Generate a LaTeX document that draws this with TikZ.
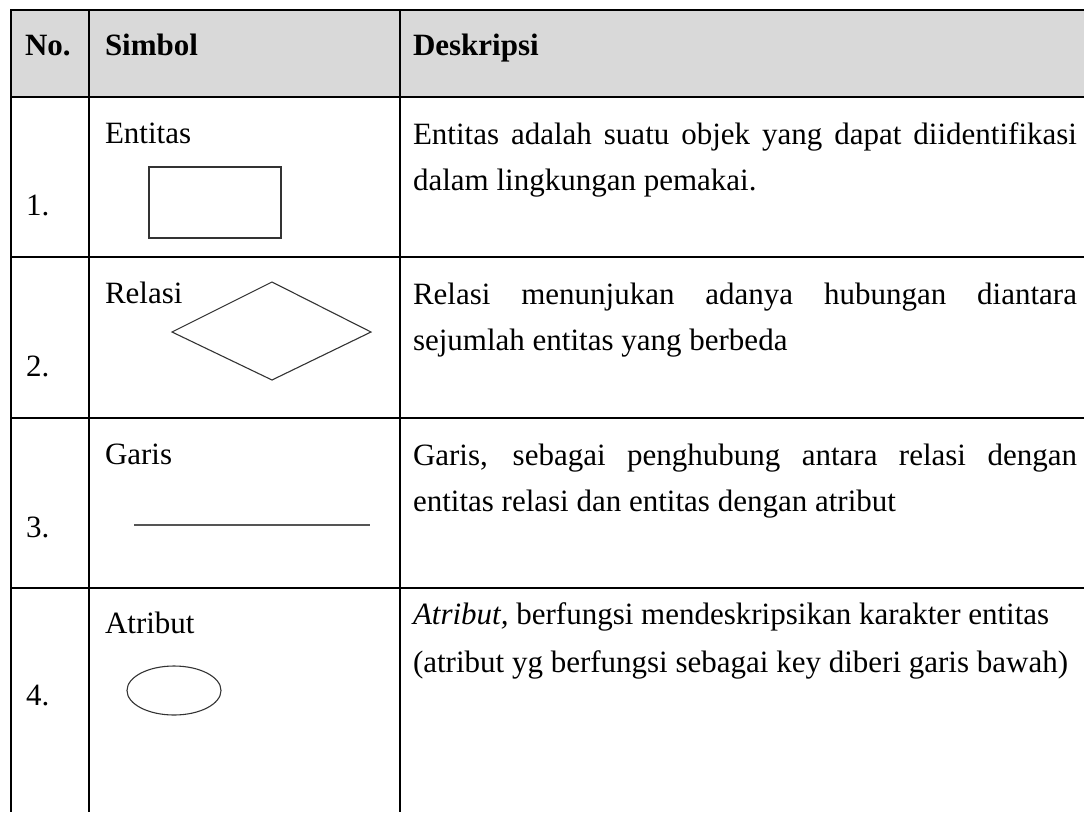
\documentclass[tikz,border=0pt]{standalone}
\usepackage{fontspec}
\setmainfont{Liberation Serif}
\definecolor{hdr}{HTML}{D9D9D9}
\definecolor{shapeline}{HTML}{333333}
\definecolor{garisline}{HTML}{555555}
\tikzset{
  grid/.style={line width=2.2pt, black},
  txt/.style={anchor=base west, inner sep=0pt, outer sep=0pt, font=\fontsize{31}{37}\selectfont},
  bold/.style={txt, font=\fontsize{31}{37}\selectfont\bfseries},
  symb/.style={line width=1.1pt, shapeline},
}
\newcommand{\jline}[1]{\makebox[664pt][s]{#1}}
\begin{document}
\begin{tikzpicture}[x=1pt,y=-1pt]
\useasboundingbox (0,0) rectangle (1084,812);
% header background
\fill[hdr] (11,10) rectangle (1084,97);
% grid lines
\draw[grid] (11,10) -- (1084,10);
\draw[grid] (11,97) -- (1084,97);
\draw[grid] (11,257) -- (1084,257);
\draw[grid] (11,418) -- (1084,418);
\draw[grid] (11,588) -- (1084,588);
\draw[grid] (11,9) -- (11,812);
\draw[grid] (89,9) -- (89,812);
\draw[grid] (400,9) -- (400,812);
% header
\node[bold] (hno) at (25,55) {No.};
\node[bold] (hsim) at (105,55) {Simbol};
\node[bold] (hdes) at (413,55) {Deskripsi};
% row 1
\node[txt] (n1) at (26,215) {1.};
\node[txt] (s1) at (105,143) {Entitas};
\draw[symb] (149,167) rectangle (281,238);
\node[txt] (d1a) at (413,144) {\jline{Entitas adalah suatu objek yang dapat diidentifikasi}};
\node[txt] (d1b) at (413,190) {dalam lingkungan pemakai.};
% row 2
\node[txt] (n2) at (26,376) {2.};
\node[txt] (s2) at (105,303) {Relasi};
\draw[symb] (172,332) -- (272,282) -- (371,332) -- (272,380) -- cycle;
\node[txt] (d2a) at (413,304) {\jline{Relasi menunjukan adanya hubungan diantara}};
\node[txt] (d2b) at (413,350) {sejumlah entitas yang berbeda};
% row 3
\node[txt] (n3) at (26,537) {3.};
\node[txt] (s3) at (105,464) {Garis};
\draw[line width=1.4pt, garisline] (134,525) -- (370,525);
\node[txt] (d3a) at (413,465) {\jline{Garis, sebagai penghubung antara relasi dengan}};
\node[txt] (d3b) at (413,511) {entitas relasi dan entitas dengan atribut};
% row 4
\node[txt] (n4) at (26,705) {4.};
\node[txt] (s4) at (105,633) {Atribut};
\draw[symb] (174,690.5) ellipse [x radius=47, y radius=24.5];
\node[txt] (d4a) at (413,624) {\textit{Atribut,} berfungsi mendeskripsikan karakter entitas};
\node[txt] (d4b) at (413,672) {(atribut yg berfungsi sebagai key diberi garis bawah)};
\end{tikzpicture}
\end{document}
